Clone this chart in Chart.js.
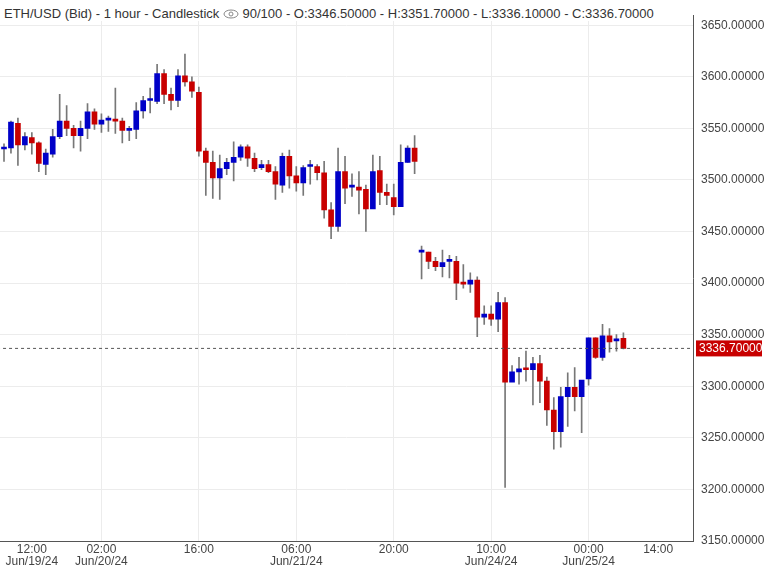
<!DOCTYPE html>
<html><head><meta charset="utf-8">
<script src="https://cdn.jsdelivr.net/npm/chart.js@4/dist/chart.umd.min.js"></script>
<style>
html,body{margin:0;padding:0;background:#fff;}
#wrap{position:relative;width:768px;height:567px;}
#title{position:absolute;left:4px;top:6px;font:13px "Liberation Sans",Arial,sans-serif;color:#333;background:#fff;padding-right:4px;}
</style></head><body>
<div id="wrap"><canvas id="c" width="768" height="567"></canvas>
<div id="title">ETH/USD (Bid) - 1 hour - Candlestick <svg width="16" height="10" viewBox="0 0 16 10" style="vertical-align:-1px"><ellipse cx="8" cy="5" rx="7" ry="4" fill="none" stroke="#888" stroke-width="1"/><circle cx="8" cy="5" r="2" fill="none" stroke="#888"/></svg> 90/100 - O:3346.50000 - H:3351.70000 - L:3336.10000 - C:3336.70000</div>
</div>
<script>
const opens  = [3530,3531,3555,3534,3541,3536,3515,3525,3542,3557,3550,3543,3550,3566,3554,3558,3559,3557,3548,3549,3567,3577,3576,3603,3583,3577,3601,3595,3585,3528,
3517,3502,3511,3517,3522,3532,3521,3512,3515,3508,3495,3523,3504,3497,3513,3513,3507,3471,3455,3508,3493,3493,3491,3472,3509,3488,3483,3474,3517,3531,
3430,3430,3421,3416,3421,3421,3400,3399,3403,3367,3370,3365,3381,3304,3314,3317,3316,3322,3305,3277,3256,3290,3299,3290,3307,3347,3328,3349,3344,3346.5];
const closes = [3531,3556,3534,3542,3536,3516,3526,3542,3557,3550,3543,3550,3566,3554,3558,3560,3557,3548,3549,3567,3577,3577,3603,3583,3577,3601,3595,3586,3528,3517,
3502,3511,3517,3522,3532,3521,3511,3515,3508,3496,3523,3504,3497,3512,3514,3507,3471,3455,3508,3492,3494,3490,3472,3508,3488,3485,3474,3517,3531,3518,
3430,3421,3416,3420,3422,3400,3399,3403,3367,3370,3365,3381,3304,3314,3317,3316,3322,3305,3277,3256,3290,3299,3290,3306,3347,3328,3349,3343,3346,3336.7];
const highs  = [3535,3557,3560,3546,3546,3537,3530,3549,3583,3572,3553,3557,3574,3569,3564,3562,3589,3560,3552,3575,3581,3589,3612,3607,3589,3607,3622,3600,3590,3531,
3528,3524,3521,3537,3534,3534,3526,3519,3519,3513,3526,3529,3513,3514,3519,3515,3518,3478,3531,3523,3506,3508,3495,3524,3523,3496,3496,3534,3533,3543,
3436,3430,3425,3432,3427,3426,3418,3410,3406,3378,3378,3391,3386,3320,3328,3334,3328,3330,3309,3289,3299,3313,3318,3305,3347,3347,3360,3356,3350,3351.7];
const lows   = [3518,3526,3514,3529,3525,3508,3505,3522,3540,3543,3531,3528,3540,3549,3546,3547,3545,3536,3538,3540,3560,3565,3574,3574,3568,3571,3591,3580,3523,3485,
3482,3481,3505,3499,3519,3513,3508,3510,3507,3481,3488,3492,3489,3485,3496,3500,3463,3443,3450,3477,3484,3467,3450,3474,3476,3476,3466,3474,3517,3506,
3404,3414,3412,3406,3405,3384,3395,3391,3348,3360,3359,3353,3202,3310,3302,3305,3282,3284,3262,3239,3241,3261,3276,3255,3301,3327,3325,3333,3334,3336.1];
const tickIdx  = [4,14,28,42,56,70,84,94];
const tickTime = ["12:00","02:00","16:00","06:00","20:00","10:00","00:00","14:00"];
const tickDate = ["Jun/19/24","Jun/20/24","","Jun/21/24","","Jun/24/24","Jun/25/24",""];
const lastClose = 3336.7;

const UP='#0000c8', DOWN='#c80000';
const bodies = opens.map((o,i)=>({x:i,y:[o,closes[i]]}));
const wicks = lows.map((l,i)=>({x:i,y:[l,highs[i]]}));
const colors = opens.map((o,i)=>closes[i]>=o?UP:DOWN);

const lastLabel = {id:'lastLabel',afterDraw(ch){
  const ctx=ch.ctx, y=ch.scales.y.getPixelForValue(lastClose), x=ch.chartArea.right+3;
  ctx.save();ctx.fillStyle='#c80000';ctx.fillRect(x,y-8,66,16);
  ctx.fillStyle='#fff';ctx.font='12px "Liberation Sans", Arial';ctx.textBaseline='middle';
  ctx.fillText(lastClose.toFixed(5),x+3,y+0.5);ctx.restore();}};

new Chart(document.getElementById('c'),{
  data:{datasets:[
    {type:'bar',data:wicks,backgroundColor:'#777',barThickness:1,grouped:false,order:2},
    {type:'bar',data:bodies,backgroundColor:colors,barThickness:5,minBarLength:2,grouped:false,order:1},
    {type:'line',data:[{x:-1,y:lastClose},{x:100,y:lastClose}],borderColor:'#555',borderWidth:1,borderDash:[3,3],pointRadius:0,order:0}
  ]},
  options:{responsive:false,animation:false,
    layout:{padding:0},
    plugins:{legend:{display:false},tooltip:{enabled:false}},
    scales:{
      x:{type:'linear',min:-0.575,max:99,offset:false,
        afterBuildTicks(s){s.ticks=tickIdx.map(v=>({value:v}));},
        afterFit(s){s.height=26;},
        ticks:{autoSkip:false,maxRotation:0,padding:2,color:'#444',font:{family:'"Liberation Sans", Arial',size:12,lineHeight:1.05},
          callback(v){const k=tickIdx.indexOf(v);return tickDate[k]?[tickTime[k],tickDate[k]]:tickTime[k];}},
        grid:{offset:false,color:c=>(c.tick&&(c.tick.value===4||c.tick.value===94))?'rgba(0,0,0,0)':'#ececec',drawTicks:false},
        border:{color:'#555'}},
      y:{position:'right',min:3150,max:3659.7,
        afterBuildTicks(s){const t=[];for(let v=3150;v<=3650;v+=50)t.push({value:v});s.ticks=t;},
        afterFit(s){s.width=75;},
        ticks:{padding:8,color:'#444',font:{family:'"Liberation Sans", Arial',size:12},callback:v=>v.toFixed(5)},
        grid:{color:'#ececec',drawTicks:false},border:{color:'#555'}}
    }},
  plugins:[lastLabel]
});
</script></body></html>
